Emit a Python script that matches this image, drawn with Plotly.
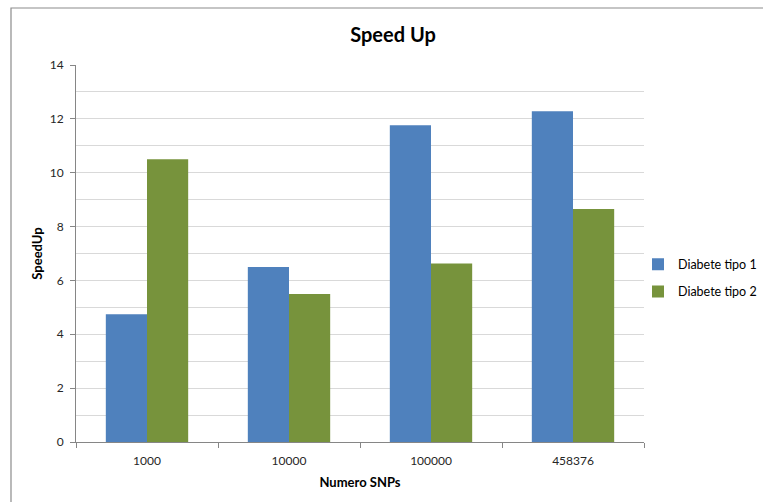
import plotly.graph_objects as go

# Number of SNPs (categories) and measured speed-ups per dataset
snps = ["1000", "10000", "100000", "458376"]
diabete_tipo_1 = [4.74, 6.5, 11.76, 12.28]
diabete_tipo_2 = [10.5, 5.5, 6.63, 8.65]
y_ticks = [0, 2, 4, 6, 8, 10, 12, 14]

W, H = 763, 502
L, R, T, B = 76, 119, 65, 60
pw, ph = W - L - R, H - T - B

font_family = "Lato, 'Open Sans', Arial, sans-serif"

fig = go.Figure()
fig.add_trace(go.Bar(name="Diabete tipo 1", x=snps, y=diabete_tipo_1,
                     legendgroup="t1",
                     marker=dict(color="#4F81BD", line=dict(width=0))))
fig.add_trace(go.Bar(name="Diabete tipo 2", x=snps, y=diabete_tipo_2,
                     legendgroup="t2",
                     marker=dict(color="#77933C", line=dict(width=0))))

# outer chart frame (extends past the right and bottom edges)
fig.add_shape(type="rect", xref="paper", yref="paper",
              x0=(11 - L) / pw, x1=2, y0=-1, y1=(H - B - 8) / ph,
              line=dict(color="#8c8c8c", width=1.2), fillcolor="rgba(0,0,0,0)",
              layer="below")

fig.update_layout(
    width=W, height=H,
    margin=dict(l=L, r=R, t=T, b=B, autoexpand=False),
    paper_bgcolor="white", plot_bgcolor="white",
    barmode="group", bargap=0.42, bargroupgap=0,
    font=dict(family=font_family, color="#262626", size=12),
    title=dict(text="<b>Speed Up</b>", x=393 / W, xanchor="center",
               xref="container", y=1 - 35 / H, yref="container", yanchor="middle",
               font=dict(size=20, color="#000000", family=font_family)),
    xaxis=dict(
        showline=True, linecolor="#868686", linewidth=1,
        ticks="outside", tickson="boundaries", ticklen=5, tickcolor="#868686",
        showgrid=False, ticklabelstandoff=8,
        tickfont=dict(size=12, color="#262626"),
        title=dict(text="<b>Numero SNPs</b>", standoff=10,
                   font=dict(size=13, color="#000000")),
    ),
    yaxis=dict(
        range=[0, 14], tickvals=y_ticks, ticktext=[str(v) for v in y_ticks],
        showline=True, linecolor="#868686", linewidth=1,
        ticks="outside", ticklen=5, tickcolor="#868686",
        showgrid=True, gridcolor="#D9D9D9", gridwidth=1,
        minor=dict(dtick=1, showgrid=True, gridcolor="#D9D9D9", gridwidth=1),
        zeroline=False, ticklabelstandoff=4,
        tickfont=dict(size=12, color="#262626"),
        title=dict(text="<b>SpeedUp</b>", standoff=4,
                   font=dict(size=13, color="#000000")),
    ),
    legend=dict(x=(638 - L) / pw, xanchor="left", y=(H - B - 278) / ph,
                yanchor="middle", font=dict(size=12.5, color="#000000"),
                traceorder="grouped", tracegroupgap=8,
                itemwidth=30, bgcolor="rgba(0,0,0,0)"),
)

fig.write_html("out.html")
